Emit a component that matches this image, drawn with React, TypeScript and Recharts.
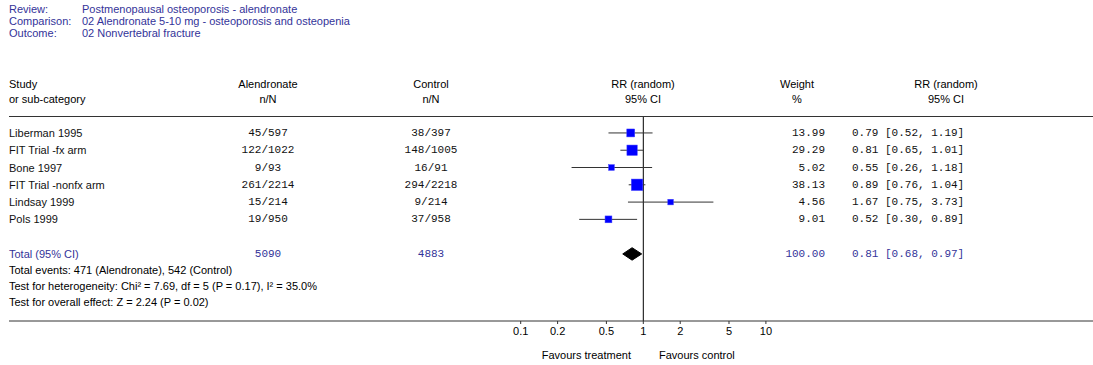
import React from 'react';
import { ComposedChart, XAxis, YAxis, Scatter, ReferenceLine, ReferenceArea } from 'recharts';

// study rows
const studies = ['Liberman 1995', 'FIT Trial -fx arm', 'Bone 1997', 'FIT Trial -nonfx arm', 'Lindsay 1999', 'Pols 1999'];
const treatCounts = ['45/597', '122/1022', '9/93', '261/2214', '15/214', '19/950'];
const controlCounts = ['38/397', '148/1005', '16/91', '294/2218', '9/214', '37/958'];
const riskRatio = [0.79, 0.81, 0.55, 0.89, 1.67, 0.52];
const ciLow = [0.52, 0.65, 0.26, 0.76, 0.75, 0.3];
const ciHigh = [1.19, 1.01, 1.18, 1.04, 3.73, 0.89];
const weights = [13.99, 29.29, 5.02, 38.13, 4.56, 9.01];

// pooled result
const totalTreat = '5090';
const totalControl = '4883';
const totalWeight = 100;
const totalRR = 0.81;
const totalLow = 0.68;
const totalHigh = 0.97;

const xTicks = [0.1, 0.2, 0.5, 1, 2, 5, 10];

const headerLines = [
  ['Review:', 'Postmenopausal osteoporosis - alendronate'],
  ['Comparison:', '02 Alendronate 5-10 mg - osteoporosis and osteopenia'],
  ['Outcome:', '02 Nonvertebral fracture'],
];
const footerLines = [
  'Total events: 471 (Alendronate), 542 (Control)',
  'Test for heterogeneity: Chi² = 7.69, df = 5 (P = 0.17), I² = 35.0%',
  'Test for overall effect: Z = 2.24 (P = 0.02)',
];

const W = 1093;
const H = 365;
const LEFT = 9;
const TOP = 116;
const AXIS_Y = 321;
const ONE_X = 643.3;
const PX_DECADE = 122.6;
const Y_MIN = -0.98;
const Y_MAX = 10.88;
const TOTAL_ROW = 7;

const xDomain = [
  Math.pow(10, (LEFT - ONE_X) / PX_DECADE),
  Math.pow(10, (W - ONE_X) / PX_DECADE),
];

const rowY = (r: number) => TOP + ((r - Y_MIN) * (AXIS_Y - TOP)) / (Y_MAX - Y_MIN);

const SANS = '"Liberation Sans", Arial, sans-serif';
const MONO = '"Liberation Mono", "Courier New", monospace';
const BLUE = '#333399';

const points = studies.map((s, i) => ({ name: s, rr: riskRatio[i], row: i, w: weights[i] }));

const ciText = (a: number, b: number, c: number) => `${a.toFixed(2)} [${b.toFixed(2)}, ${c.toFixed(2)}]`;

const Square = (props: any) => {
  const { cx, cy, payload } = props;
  const s = 2.5 + 1.45 * Math.sqrt(payload.w);
  return <rect x={cx - s / 2} y={cy - s / 2} width={s} height={s} fill="#0000ff" stroke="#4040ff" strokeWidth={0.5} />;
};

const Diamond = (props: any) => {
  const { x, y, width, height } = props;
  const f = (Math.log10(totalRR) - Math.log10(totalLow)) / (Math.log10(totalHigh) - Math.log10(totalLow));
  const cx = x + width * f;
  const pts = `${x},${y + height / 2} ${cx},${y} ${x + width},${y + height / 2} ${cx},${y + height}`;
  return <polygon points={pts} fill="#000" stroke="#000" />;
};

export default function App() {
  const txt = { fontFamily: SANS, fontSize: 11, dominantBaseline: 'central' as const };
  const mono = { fontFamily: MONO, fontSize: 11, dominantBaseline: 'central' as const };
  return (
    <div style={{ position: 'absolute', left: 0, top: 0, width: W, height: H, background: '#fff' }}>
      <ComposedChart width={W} height={H} margin={{ top: TOP, right: 0, left: LEFT, bottom: 0 }}>
        <XAxis
          type="number"
          dataKey="rr"
          scale="log"
          domain={xDomain}
          allowDataOverflow
          ticks={xTicks}
          height={H - AXIS_Y}
          tickSize={3}
          tickMargin={3}
          axisLine={{ stroke: '#333' }}
          tickLine={{ stroke: '#333' }}
          tick={{ fontSize: 11, fill: '#000', fontFamily: SANS }}
        />
        <YAxis type="number" dataKey="row" hide reversed domain={[Y_MIN, Y_MAX]} allowDataOverflow />
        <ReferenceLine x={1} stroke="#000" />
        {studies.map((s, i) => (
          <ReferenceLine
            key={s}
            segment={[{ x: ciLow[i], y: i }, { x: ciHigh[i], y: i }]}
            stroke="#333"
          />
        ))}
        <Scatter data={points} shape={Square} isAnimationActive={false} />
        <ReferenceArea
          x1={totalLow}
          x2={totalHigh}
          y1={TOTAL_ROW - 0.36}
          y2={TOTAL_ROW + 0.36}
          shape={Diamond}
        />
      </ComposedChart>
      <svg width={W} height={H} style={{ position: 'absolute', left: 0, top: 0, pointerEvents: 'none' }}>
        {headerLines.map(([k, v], i) => (
          <g key={k} fill={BLUE}>
            <text x={9} y={9 + i * 12} {...txt}>{k}</text>
            <text x={82} y={9 + i * 12} {...txt}>{v}</text>
          </g>
        ))}
        <g fill="#000">
          <text x={9} y={84} {...txt}>Study</text>
          <text x={9} y={99} {...txt}>or sub-category</text>
          <text x={268} y={84} textAnchor="middle" {...txt}>Alendronate</text>
          <text x={268} y={99} textAnchor="middle" {...txt}>n/N</text>
          <text x={431} y={84} textAnchor="middle" {...txt}>Control</text>
          <text x={431} y={99} textAnchor="middle" {...txt}>n/N</text>
          <text x={643} y={84} textAnchor="middle" {...txt}>RR (random)</text>
          <text x={643} y={99} textAnchor="middle" {...txt}>95% CI</text>
          <text x={797} y={84} textAnchor="middle" {...txt}>Weight</text>
          <text x={797} y={99} textAnchor="middle" {...txt}>%</text>
          <text x={946} y={84} textAnchor="middle" {...txt}>RR (random)</text>
          <text x={946} y={99} textAnchor="middle" {...txt}>95% CI</text>
        </g>
        <line x1={LEFT} x2={W} y1={TOP + 0.5} y2={TOP + 0.5} stroke="#333" />
        {studies.map((s, i) => (
          <g key={s} fill="#111">
            <text x={9} y={rowY(i)} {...txt}>{s}</text>
            <text x={268} y={rowY(i)} textAnchor="middle" {...mono}>{treatCounts[i]}</text>
            <text x={431} y={rowY(i)} textAnchor="middle" {...mono}>{controlCounts[i]}</text>
            <text x={825} y={rowY(i)} textAnchor="end" {...mono}>{weights[i].toFixed(2)}</text>
            <text x={852} y={rowY(i)} {...mono}>{ciText(riskRatio[i], ciLow[i], ciHigh[i])}</text>
          </g>
        ))}
        <g fill={BLUE}>
          <text x={9} y={rowY(TOTAL_ROW)} {...txt}>Total (95% CI)</text>
          <text x={268} y={rowY(TOTAL_ROW)} textAnchor="middle" {...mono}>{totalTreat}</text>
          <text x={431} y={rowY(TOTAL_ROW)} textAnchor="middle" {...mono}>{totalControl}</text>
          <text x={825} y={rowY(TOTAL_ROW)} textAnchor="end" {...mono}>{totalWeight.toFixed(2)}</text>
          <text x={852} y={rowY(TOTAL_ROW)} {...mono}>{ciText(totalRR, totalLow, totalHigh)}</text>
        </g>
        {footerLines.map((l, i) => (
          <text key={l} x={9} y={270 + i * 16} fill="#000" {...txt}>{l}</text>
        ))}
        <text x={631} y={355} textAnchor="end" fill="#000" {...txt}>Favours treatment</text>
        <text x={659} y={355} fill="#000" {...txt}>Favours control</text>
      </svg>
    </div>
  );
}
